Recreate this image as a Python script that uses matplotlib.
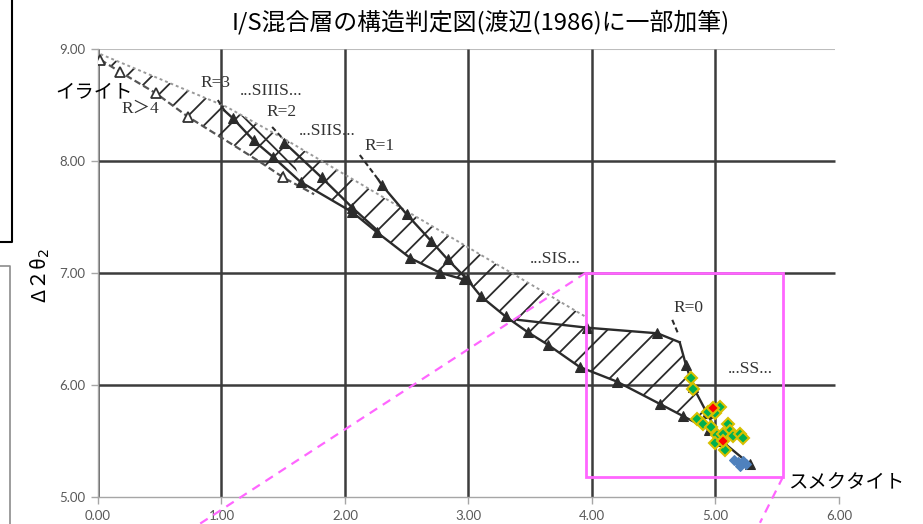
import matplotlib
matplotlib.use('Agg')
import matplotlib.pyplot as plt
from matplotlib.patches import Polygon, Rectangle
from matplotlib.lines import Line2D
from matplotlib.ticker import FormatStrFormatter

DPI = 76
F = 100 / DPI  # keeps sizes in "100-dpi points" while making hatch spacing finer

plt.rcParams['font.family'] = ['Noto Sans CJK JP', 'DejaVu Sans']
plt.rcParams['hatch.linewidth'] = 1.3 * F

# ---------------- data ----------------
title = 'I/S混合層の構造判定図(渡辺(1986)に一部加筆)'
ylabel = 'Δ２θ$_2$'
x_ticks = [0, 1, 2, 3, 4, 5, 6]
y_ticks = [5, 6, 7, 8, 9]

# measured samples
green_x = [4.80, 4.82, 5.04, 5.00, 4.94, 4.85, 4.90, 4.96, 5.10, 5.12, 5.01, 5.06, 5.14, 5.20, 5.22, 5.00, 5.08]
green_y = [6.06, 5.96, 5.80, 5.75, 5.76, 5.70, 5.65, 5.62, 5.65, 5.59, 5.55, 5.56, 5.54, 5.56, 5.53, 5.48, 5.42]
red_x = [4.98, 5.06]
red_y = [5.79, 5.50]
blue_x = [5.15, 5.18, 5.22, 5.25, 5.20]
blue_y = [5.33, 5.31, 5.32, 5.29, 5.28]

# Watanabe (1986) diagram lines
env_upper_x = [0.02, 1.04, 1.53, 3.96]
env_upper_y = [8.95, 8.48, 8.18, 6.60]
r4_x = [0.02, 0.18, 0.47, 0.73, 1.05, 1.31, 1.50, 1.75]
r4_y = [8.90, 8.79, 8.60, 8.39, 8.17, 7.99, 7.85, 7.70]
r3_x = [1.02, 1.09, 1.26, 1.42, 1.64, 2.06, 2.26, 2.53, 2.77, 2.96]
r3_y = [8.45, 8.38, 8.18, 8.03, 7.81, 7.54, 7.36, 7.13, 7.00, 6.94]
r2_x = [1.51, 1.81, 2.06, 2.26]
r2_y = [8.16, 7.85, 7.58, 7.38]
r1_x = [2.27, 2.30, 2.50, 2.70, 2.83, 2.99, 3.10, 3.30, 3.48, 3.64, 3.90, 4.20, 4.55, 4.74, 4.95, 5.05, 5.28]
r1_y = [7.83, 7.78, 7.52, 7.28, 7.12, 6.94, 6.79, 6.61, 6.47, 6.36, 6.16, 6.03, 5.83, 5.72, 5.60, 5.50, 5.29]
r0_upper_x = [3.40, 3.96, 4.53, 4.71]
r0_upper_y = [6.58, 6.51, 6.46, 6.38]
r0_right_x = [4.71, 4.76, 4.82, 4.93, 5.05]
r0_right_y = [6.38, 6.18, 5.98, 5.75, 5.50]

leaders = {
    'R=3': ([0.97, 1.04], [8.54, 8.42]),
    'R=2': ([1.41, 1.51], [8.30, 8.18]),
    'R=1': ([2.12, 2.27], [8.05, 7.83]),
    'R=0': ([4.65, 4.70], [6.58, 6.45]),
}
diagram_labels = ['R＞4', 'R=3', '...SIIIS...', 'R=2', '...SIIS...', 'R=1', '...SIS...', 'R=0', '...SS...']
diagram_label_x = [0.34, 0.95, 1.40, 1.49, 1.86, 2.28, 3.70, 4.78, 5.28]
diagram_label_y = [8.46, 8.69, 8.62, 8.43, 8.26, 8.13, 7.12, 6.69, 6.14]

zoom_box_x = [3.95, 5.547]
zoom_box_y = [5.181, 7.0]
guide1_x = [3.95, 0.826]
guide1_y = [7.0, 4.762]
guide2_x = [5.547, 5.36]
guide2_y = [5.181, 4.77]

# ---------------- figure ----------------
W, H = 924, 524
fig = plt.figure(figsize=(W / DPI, H / DPI), dpi=DPI)
fig.patch.set_facecolor('white')
ax = fig.add_axes([98 / W, 1 - 497 / H, (839 - 98) / W, (497 - 48.5) / H])
ax.set_xlim(0, 6)
ax.set_ylim(5, 9)

for s in ['top', 'right']:
    ax.spines[s].set_visible(False)
for s in ['left', 'bottom']:
    ax.spines[s].set_color('#a6a6a6')
    ax.spines[s].set_linewidth(1.0 * F)
ax.set_xticks(x_ticks)
ax.set_yticks(y_ticks)
ax.xaxis.set_major_formatter(FormatStrFormatter('%.2f'))
ax.yaxis.set_major_formatter(FormatStrFormatter('%.2f'))
ax.tick_params(direction='out', length=5 * F, width=1.0 * F, color='#a6a6a6', labelcolor='#595959',
               labelsize=9.5 * F, pad=4 * F)
for lab in ax.get_xticklabels() + ax.get_yticklabels():
    lab.set_family('Lato')

# scanned-diagram grid
grid_c = '#3c3c3c'
ax.hlines([6, 7, 8], 0, 5.97, color=grid_c, lw=1.8 * F, zorder=1)
ax.hlines([9], 0, 5.97, color='#bdbdbd', lw=1.5 * F, zorder=1)
ax.vlines([0, 1, 2, 3, 4, 5], 5, 9, color=grid_c, lw=1.8 * F, zorder=1)

ink = '#2b2b2b'
# hatched regions
h1 = list(zip(env_upper_x[:3], env_upper_y[:3])) + list(zip(r4_x[:7], r4_y[:7]))[::-1]
ax.add_patch(Polygon(h1, closed=True, fill=False, hatch='/', edgecolor=ink, lw=0, zorder=2))
h2 = list(zip(r3_x[:5], r3_y[:5])) + [(env_upper_x[2], env_upper_y[2]), (env_upper_x[1], env_upper_y[1])]
ax.add_patch(Polygon(h2, closed=True, fill=False, hatch='\\', edgecolor=ink, lw=0, zorder=2))
h3 = (list(zip(r3_x[4:], r3_y[4:])) + list(zip(r1_x[5:16], r1_y[5:16]))
      + list(zip(r0_right_x, r0_right_y))[::-1][1:]
      + list(zip(r0_upper_x[1:], r0_upper_y[1:]))[::-1]
      + [(env_upper_x[3], env_upper_y[3]), (env_upper_x[2], env_upper_y[2])])
ax.add_patch(Polygon(h3, closed=True, fill=False, hatch='/', edgecolor=ink, lw=0, zorder=2))

# boundary lines
ax.plot(env_upper_x, env_upper_y, color='#9a9a9a', lw=1.4 * F, ls=(0, (1.5, 1.5)), zorder=3)
ax.plot(r4_x, r4_y, color='#555555', lw=1.6 * F, ls=(0, (3, 1.5)), zorder=3)
ax.plot([r4_x[i] for i in (0, 1, 2, 3, 6)], [r4_y[i] for i in (0, 1, 2, 3, 6)], ls='none',
        marker='^', ms=7 * F, mfc='white', mec='#333333', mew=1.3 * F, zorder=4)
tri = dict(marker='^', ms=7 * F, mfc=ink, mec=ink, zorder=4)
ax.plot(r3_x, r3_y, color=ink, lw=1.7 * F, markevery=list(range(1, len(r3_x))), **tri)
ax.plot(r2_x, r2_y, color=ink, lw=1.7 * F, markevery=[0, 1, 2], **tri)
ax.plot(r1_x, r1_y, color=ink, lw=1.7 * F, markevery=list(range(1, len(r1_x))), **tri)
ax.plot(r0_upper_x, r0_upper_y, color=ink, lw=1.7 * F, markevery=[1, 2], **tri)
ax.plot(r0_right_x, r0_right_y, color=ink, lw=1.7 * F, markevery=[1, 2, 3], **tri)
for k, (lx, ly) in leaders.items():
    ax.plot(lx, ly, color=ink, lw=1.5 * F, ls=(0, (2.5, 1.5)), zorder=3)

for t, x, y in zip(diagram_labels, diagram_label_x, diagram_label_y):
    ax.text(x, y, t, ha='center', va='center', fontsize=12.5 * F, color='#333333',
            family=['Liberation Serif', 'Noto Sans CJK JP'], zorder=5)

# samples
ax.plot(blue_x, blue_y, ls='none', marker='D', ms=5.0 * F, mfc='#4f81bd', mec='#4f81bd', zorder=6)
ax.plot(green_x, green_y, ls='none', marker='D', ms=6.0 * F, mfc='#00b050', mec='#d8c000',
        mew=1.5 * F, zorder=7)
ax.plot(red_x, red_y, ls='none', marker='D', ms=6.0 * F, mfc='#ff0000', mec='#d8c000',
        mew=1.5 * F, zorder=8)

# zoom box and guide lines
mag = '#ff66ff'
ax.add_patch(Rectangle((zoom_box_x[0], zoom_box_y[0]), zoom_box_x[1] - zoom_box_x[0],
                       zoom_box_y[1] - zoom_box_y[0], fill=False, edgecolor=mag, lw=2 * F, zorder=9,
                       clip_on=False))
ax.plot(guide1_x, guide1_y, color=mag, lw=1.6 * F, ls=(0, (4, 3)), clip_on=False, zorder=9)
ax.plot(guide2_x, guide2_y, color=mag, lw=1.6 * F, ls=(0, (4, 3)), clip_on=False, zorder=9)

# annotations
ax.text(-0.03, 8.61, 'イライト', ha='center', va='center', fontsize=14 * F, color='black',
        clip_on=False, zorder=10)
ax.text(6.06, 5.13, 'スメクタイト', ha='center', va='center', fontsize=14 * F, color='black',
        clip_on=False, zorder=10)

fig.text(481 / W, 1 - 22 / H, title, ha='center', va='center', fontsize=17.2 * F, color='black')
fig.text(40 / W, 1 - 276 / H, ylabel, ha='center', va='center', rotation=90, fontsize=14.5 * F,
         color='black')

# frame remnants on the left
fig.add_artist(Line2D([12 / W, 12 / W, 0], [1, 1 - 242 / H, 1 - 242 / H], color='black', lw=1.5 * F,
                      transform=fig.transFigure))
fig.add_artist(Line2D([0, 10 / W, 10 / W], [1 - 266 / H, 1 - 266 / H, 0], color='#8c8c8c', lw=1.2 * F,
                      transform=fig.transFigure))

fig.savefig('out.png', dpi=DPI)
